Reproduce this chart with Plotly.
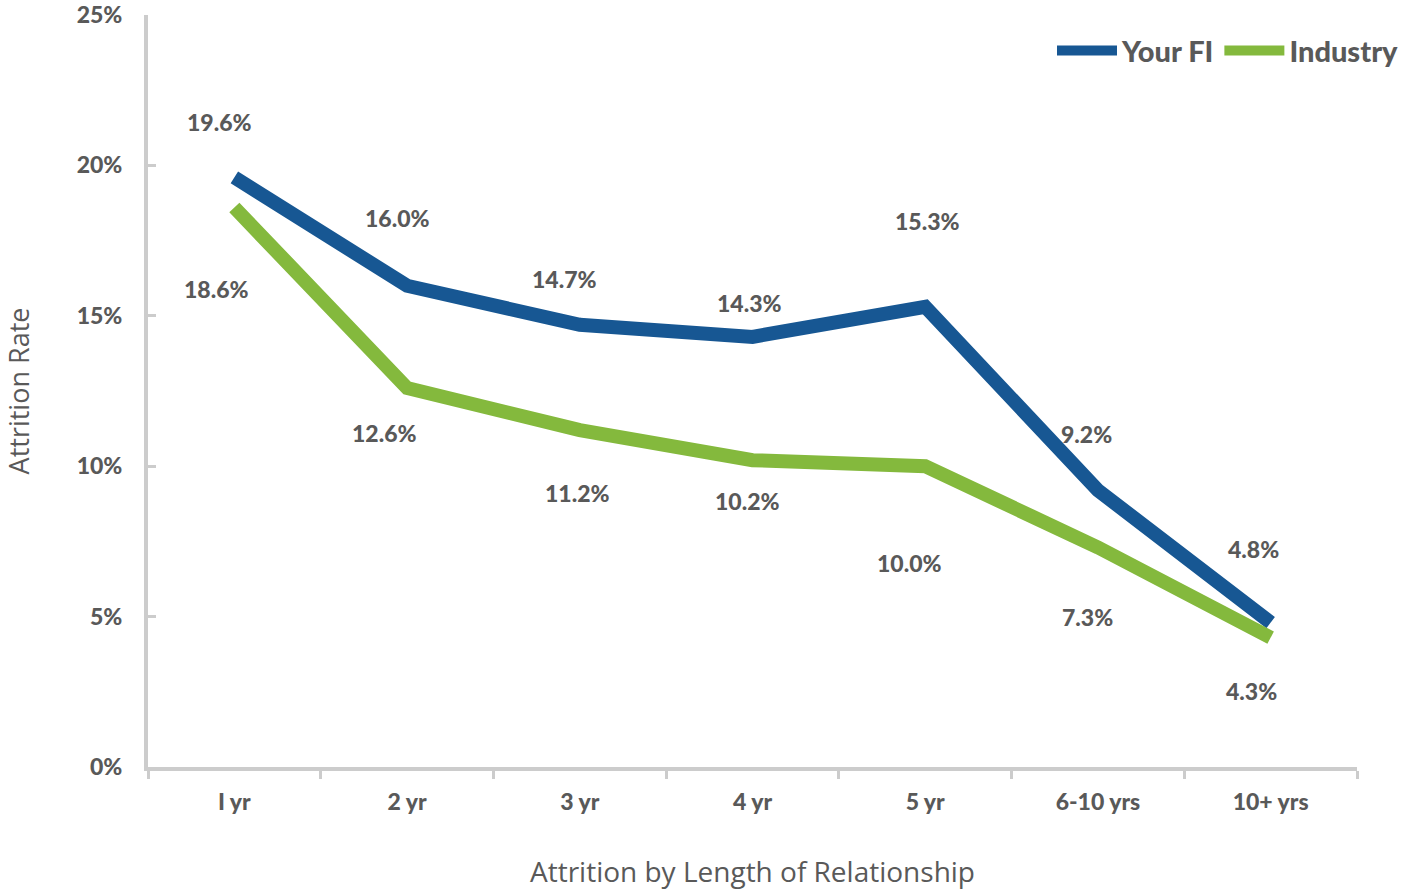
import plotly.graph_objects as go

categories = ["I yr", "2 yr", "3 yr", "4 yr", "5 yr", "6-10 yrs", "10+ yrs"]
your_fi = [19.6, 16.0, 14.7, 14.3, 15.3, 9.2, 4.8]
industry = [18.6, 12.6, 11.2, 10.2, 10.0, 7.3, 4.3]
y_ticks = [0, 5, 10, 15, 20, 25]
y_tick_labels = ["0%", "5%", "10%", "15%", "20%", "25%"]

# label pixel offsets (dx, dy up-positive)
fi_offsets = [(-15, 55), (-10, 68), (-15, 46), (-3, 34), (2, 86), (-11, 56), (-17, 74)]
ind_offsets = [(-18, -81), (-23, -45), (-2, -63), (-5, -41), (-16, -97), (-10, -70), (-19, -53)]

BLUE = "#175793"
GREEN = "#84b93d"
TXT = "#595959"
AX = "#cccccc"
FONT = "Lato"

fig = go.Figure()
fig.add_trace(go.Scatter(x=categories, y=your_fi, mode="lines", name="Your FI",
                         line=dict(color=BLUE, width=14)))
fig.add_trace(go.Scatter(x=categories, y=industry, mode="lines", name="Industry",
                         line=dict(color=GREEN, width=14)))

for c, v, (dx, dy) in zip(categories, your_fi, fi_offsets):
    fig.add_annotation(x=c, y=v, text=f"{v:.1f}%", showarrow=False, xshift=dx, yshift=dy,
                       font=dict(family=FONT, size=23, color=TXT, weight=900))
for c, v, (dx, dy) in zip(categories, industry, ind_offsets):
    fig.add_annotation(x=c, y=v, text=f"{v:.1f}%", showarrow=False, xshift=dx, yshift=dy,
                       font=dict(family=FONT, size=23, color=TXT, weight=900))

fig.update_layout(
    width=1404, height=890,
    margin=dict(l=148, r=47, t=15, b=123, autoexpand=False),
    plot_bgcolor="white", paper_bgcolor="white",
    showlegend=True,
    legend=dict(orientation="h", xref="container", x=1.0, xanchor="right",
                yref="container", y=0.943, yanchor="middle",
                font=dict(family=FONT, size=29, color=TXT, weight=900),
                itemwidth=60, tracegroupgap=0, bgcolor="rgba(0,0,0,0)"),
    xaxis=dict(
        range=[-0.5, 6.5], showline=True, linecolor=AX, linewidth=4,
        ticks="outside", tickson="boundaries", ticklen=8, tickwidth=3, tickcolor=AX,
        showgrid=False, zeroline=False,
        tickfont=dict(family=FONT, size=23, color=TXT, weight=900),
        ticklabelstandoff=11,
        title=dict(text="Attrition by Length of Relationship", standoff=55,
                   font=dict(family="Open Sans", size=28, color=TXT)),
    ),
    yaxis=dict(
        range=[0, 25], tickvals=y_ticks, ticktext=y_tick_labels,
        ticklabeloverflow="allow",
        showline=True, linecolor=AX, linewidth=4,
        ticks="inside", ticklen=8, tickwidth=3, tickcolor=AX,
        showgrid=False, zeroline=False,
        tickfont=dict(family=FONT, size=23, color=TXT, weight=900),
        ticklabelstandoff=17,
        title=dict(text="Attrition Rate", standoff=55,
                   font=dict(family="Open Sans", size=27, color=TXT)),
    ),
)

fig.write_html("out.html")
